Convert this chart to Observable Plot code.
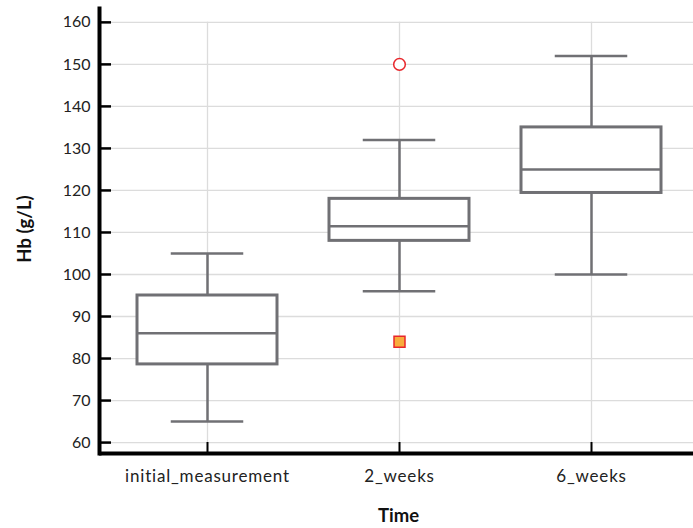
<!DOCTYPE html>
<html>
<head>
<meta charset="utf-8">
<script src="https://cdn.jsdelivr.net/npm/d3@7"></script>
<script src="https://cdn.jsdelivr.net/npm/@observablehq/plot@0.6"></script>
<style>
  html, body { margin: 0; padding: 0; background: #fff; }
  svg { display: block; }
  .xlab text { letter-spacing: 0.8px; }
</style>
</head>
<body>
<div id="chart"></div>
<script>
// Data
const categories = ["initial_measurement", "2_weeks", "6_weeks"];
const whiskerLow  = [65, 96, 100];
const q1          = [78.6, 108, 119.4];
const median      = [86, 111.5, 125];
const q3          = [95, 118, 135];
const whiskerHigh = [105, 132, 152];
// Outliers
const outlierCircleCat = ["2_weeks"];
const outlierCircleVal = [150];
const outlierSquareCat = ["2_weeks"];
const outlierSquareVal = [84];
const yTicks = [60, 70, 80, 90, 100, 110, 120, 130, 140, 150, 160];
const yDomain = [57.4, 163.3];
const xTitle = "Time";
const yTitle = "Hb (g/L)";

const boxes = categories.map((c, i) => ({
  cat: c, lo: whiskerLow[i], q1: q1[i], med: median[i], q3: q3[i], hi: whiskerHigh[i]
}));
const circles = outlierCircleCat.map((c, i) => ({cat: c, v: outlierCircleVal[i]}));
const squares = outlierSquareCat.map((c, i) => ({cat: c, v: outlierSquareVal[i]}));

const W = 693, H = 528;
const mL = 99, mR = 0, mT = 8, mB = 75;
const frameW = W - mL - mR, frameH = H - mT - mB;
const boxColor = "#707074";
const gridColor = "#dcdcdc";
const font = "Lato, 'Open Sans', sans-serif";

const chart = Plot.plot({
  width: W,
  height: H,
  marginLeft: mL,
  marginRight: mR,
  marginTop: mT,
  marginBottom: mB,
  style: {fontFamily: font, fontSize: "16px", color: "#222", background: "#fff"},
  x: {type: "band", domain: categories, range: [110.45, 687.95], paddingInner: 0.27, paddingOuter: 0.135},
  y: {domain: yDomain},
  marks: [
    // grid
    Plot.ruleY(yTicks, {stroke: gridColor, strokeWidth: 1.3}),
    Plot.ruleX(categories, {x: d => d, y1: yDomain[0], y2: d3.max(yTicks), stroke: gridColor, strokeWidth: 1.3}),
    // axes labels
    Plot.axisY({ticks: yTicks, tickSize: 0, tickPadding: 9, label: null, tickFormat: d => d, fontSize: 16, fill: "#222"}),
    Plot.axisX({tickSize: 0, tickPadding: 16, label: null, fontSize: 17, fill: "#222", className: "xlab"}),
    // whiskers
    Plot.ruleX(boxes, {x: "cat", y1: "q3", y2: "hi", stroke: boxColor, strokeWidth: 2.5}),
    Plot.ruleX(boxes, {x: "cat", y1: "lo", y2: "q1", stroke: boxColor, strokeWidth: 2.5}),
    Plot.tickY(boxes, {x: "cat", y: "hi", stroke: boxColor, strokeWidth: 2.5, insetLeft: 33.75, insetRight: 33.75}),
    Plot.tickY(boxes, {x: "cat", y: "lo", stroke: boxColor, strokeWidth: 2.5, insetLeft: 33.75, insetRight: 33.75}),
    // box
    Plot.barY(boxes, {x: "cat", y1: "q1", y2: "q3", fill: "white", stroke: boxColor, strokeWidth: 3}),
    Plot.tickY(boxes, {x: "cat", y: "med", stroke: boxColor, strokeWidth: 2.5}),
    // outliers
    Plot.dot(circles, {x: "cat", y: "v", r: 5.8, fill: "white", stroke: "#e8262b", strokeWidth: 1.5}),
    Plot.dot(squares, {x: "cat", y: "v", symbol: "square", r: 6.2, fill: "#f8ac3c", stroke: "#e8262b", strokeWidth: 1.5}),
    // axis lines
    Plot.ruleY([yDomain[0]], {stroke: "black", strokeWidth: 4}),
    Plot.frame({anchor: "left", stroke: "black", strokeWidth: 4}),
    // inward ticks
    Plot.tickY(yTicks, {y: d => d, stroke: "black", strokeWidth: 2.5, insetLeft: 0, insetRight: frameW - 12}),
    Plot.tickX(categories, {x: d => d, stroke: "black", strokeWidth: 2, insetTop: frameH - 11, insetBottom: 0}),
    // titles
    Plot.text([yTitle], {frameAnchor: "left", textAnchor: "middle", lineAnchor: "middle", dx: -74, dy: -2, rotate: -90, fontWeight: "bold", fontSize: 18.5, fill: "#111"}),
    Plot.text([xTitle], {frameAnchor: "bottom", textAnchor: "middle", lineAnchor: "middle", dy: 63, dx: 2, fontWeight: "bold", fontSize: 18.5, fill: "#111"})
  ]
});
document.getElementById("chart").appendChild(chart);
</script>
</body>
</html>
